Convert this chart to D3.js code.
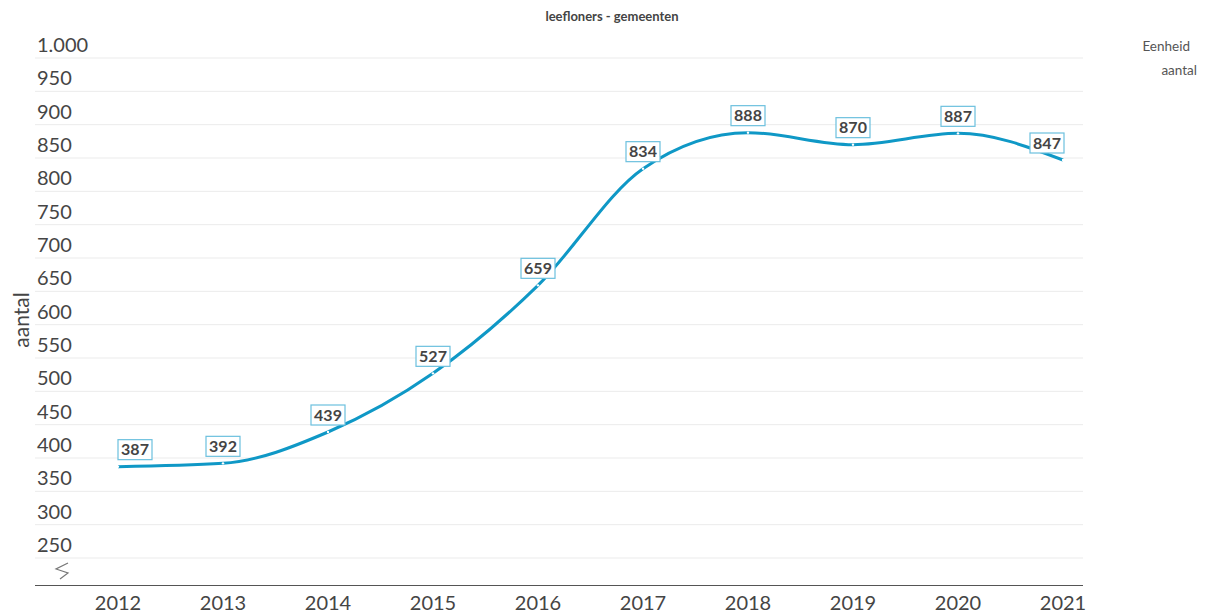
<!DOCTYPE html>
<html>
<head>
<meta charset="utf-8">
<script src="https://cdn.jsdelivr.net/npm/d3@7"></script>
<style>
  body { margin: 0; background: #fff; }
  text { font-family: "Source Sans Pro", Lato, "Open Sans", sans-serif; }
</style>
</head>
<body>
<svg id="chart"></svg>
<script>
// data
var years = [2012, 2013, 2014, 2015, 2016, 2017, 2018, 2019, 2020, 2021];
var values = [387, 392, 439, 527, 659, 834, 888, 870, 887, 847];
var yTicks = [250, 300, 350, 400, 450, 500, 550, 600, 650, 700, 750, 800, 850, 900, 950, 1000];

var width = 1207, height = 616;
var svg = d3.select("#chart").attr("width", width).attr("height", height);

var x = d3.scalePoint().domain(years).range([118, 1063]);
var y = d3.scaleLinear().domain([209.5, 1000]).range([585, 58]);

var fmt = function(v){ return v >= 1000 ? d3.format(",")(v).replace(",", ".") : v; };

// grid lines
svg.append("g").selectAll("line")
  .data(yTicks)
  .enter().append("line")
    .attr("x1", 35).attr("x2", 1083)
    .attr("y1", function(d){ return y(d); })
    .attr("y2", function(d){ return y(d); })
    .style("stroke", "#ebebeb")
    .style("stroke-width", 1);

// y labels above gridlines
svg.append("g").selectAll("text")
  .data(yTicks)
  .enter().append("text")
    .attr("x", 37)
    .attr("y", function(d){ return y(d) - 6; })
    .style("font-size", "20px")
    .style("fill", "#454545")
    .text(fmt);

// baseline
svg.append("line")
  .attr("x1", 35).attr("x2", 1083)
  .attr("y1", 585.5).attr("y2", 585.5)
  .style("stroke", "#555").style("stroke-width", 1);

// axis break mark
svg.append("path")
  .attr("d", "M68,563 L56,569 L68,573 L60,579")
  .style("fill", "none").style("stroke", "#777").style("stroke-width", 1.2);

// x axis labels
svg.append("g").selectAll("text")
  .data(years)
  .enter().append("text")
    .attr("x", function(d){ return x(d); })
    .attr("y", 610)
    .attr("text-anchor", "middle")
    .style("font-size", "20px")
    .style("fill", "#454545")
    .text(function(d){ return d; });

// y axis title
svg.append("text")
  .attr("transform", "translate(29,320) rotate(-90)")
  .attr("text-anchor", "middle")
  .style("font-size", "21px")
  .style("fill", "#454545")
  .text("aantal");

// title
svg.append("text")
  .attr("x", 612).attr("y", 21)
  .attr("text-anchor", "middle")
  .style("font-size", "13px")
  .style("font-weight", "bold")
  .style("fill", "#444")
  .text("leefloners - gemeenten");

// legend
svg.append("text")
  .attr("x", 1190).attr("y", 51)
  .attr("text-anchor", "end")
  .style("font-size", "13.5px").style("fill", "#555")
  .text("Eenheid");
svg.append("text")
  .attr("x", 1197).attr("y", 75)
  .attr("text-anchor", "end")
  .style("font-size", "13.5px").style("fill", "#555")
  .text("aantal");

var pts = years.map(function(yr, i){ return {year: yr, value: values[i]}; });

// line
svg.append("path")
  .datum(pts)
  .attr("d", d3.line()
    .x(function(d){ return x(d.year); })
    .y(function(d){ return y(d.value); })
    .curve(d3.curveMonotoneX))
  .style("fill", "none")
  .style("stroke", "#0f98c6")
  .style("stroke-width", 3);

// point markers
svg.append("g").selectAll("circle")
  .data(pts)
  .enter().append("circle")
    .attr("cx", function(d){ return x(d.year); })
    .attr("cy", function(d){ return y(d.value); })
    .attr("r", 1.2)
    .style("fill", "#fff");

// value labels, kept inside the plot area
var bw = 34, bh = 20;
var lab = svg.append("g").selectAll("g")
  .data(pts)
  .enter().append("g")
    .attr("transform", function(d){
      var cx = Math.min(Math.max(x(d.year), 118 + bw/2), 1064 - bw/2);
      return "translate(" + cx + "," + (y(d.value) - 7 - bh/2) + ")";
    });
lab.append("rect")
  .attr("x", -bw/2).attr("y", -bh/2)
  .attr("width", bw).attr("height", bh)
  .style("fill", "#fff")
  .style("stroke", "#6cc0de")
  .style("stroke-width", 1.2);
lab.append("text")
  .attr("text-anchor", "middle")
  .attr("y", 5.5)
  .style("font-size", "16px")
  .style("font-weight", "bold")
  .style("fill", "#444")
  .text(function(d){ return d.value; });
</script>
</body>
</html>
